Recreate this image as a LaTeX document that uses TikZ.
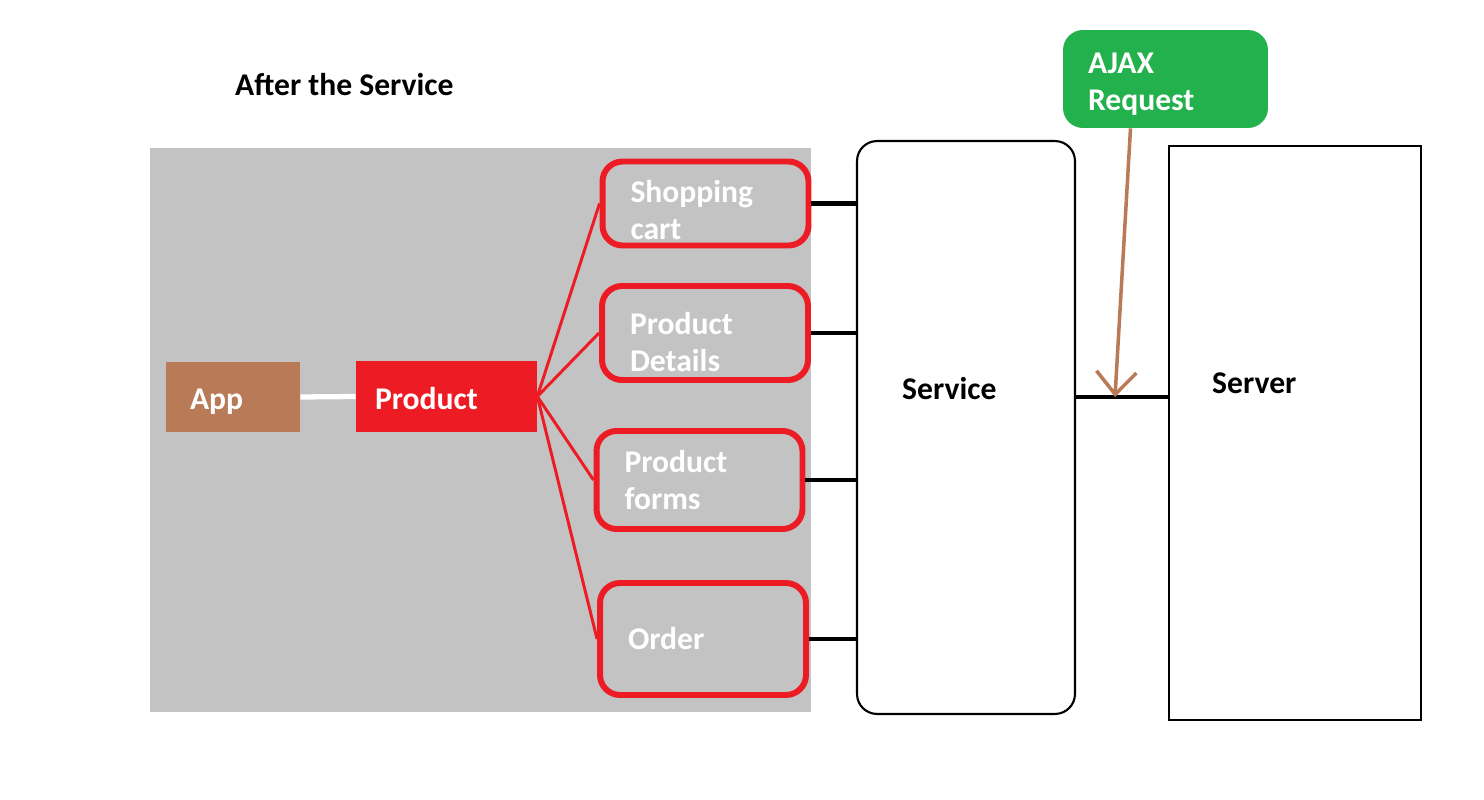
\documentclass[tikz,border=0pt]{standalone}
\usepackage{fontspec}
\setmainfont{Carlito}
\usetikzlibrary{arrows.meta,calc}
\definecolor{bggray}{HTML}{C3C3C3}
\definecolor{pred}{HTML}{ED1C24}
\definecolor{appbrown}{HTML}{B97A57}
\definecolor{ajaxgreen}{HTML}{22B14C}
\newcommand{\toppad}[1]{\rule{0pt}{#1}}
\tikzset{
  lbl/.style={font=\fontsize{18}{21}\selectfont\bfseries},
  wlbl/.style={lbl, text=white, align=left},
  subbox/.style={wlbl, draw=pred, line width=3.4pt, rounded corners=0.4cm,
    text width=3cm, inner xsep=0.56cm, minimum width=4.12cm},
  bigbox/.style={draw=black, line width=1.2pt},
  redlink/.style={pred, line width=1.7pt},
  blacklink/.style={black, line width=2.3pt}
}
\begin{document}
\begin{tikzpicture}[x=0.02cm, y=-0.02cm]
        \useasboundingbox (0,0) rectangle (1484,800);
        \fill[bggray] (150,148) rectangle (811,712);
        % left side
        \node[wlbl, fill=appbrown, text width=1.72cm, inner xsep=0.48cm,
          text height=18.4pt, text depth=4pt,
          minimum height=1.4cm] (app) at (233,397) {App};
        \node[wlbl, fill=pred, text width=2.86cm, inner xsep=0.38cm,
          text height=17pt, text depth=2pt,
          minimum height=1.42cm] (product) at (446.5,396.5) {Product};
        \node[subbox, minimum height=1.62cm] (cart) at (705.5,203.5) {\toppad{20pt}Shopping\\cart};
        \node[subbox, minimum height=1.88cm] (details) at (705,333) {\toppad{22.5pt}Product\\Details};
        \node[subbox, minimum height=1.96cm] (forms) at (699.5,480) {Product\\forms};
        \node[subbox, minimum height=2.24cm] (order) at (703,639) {Order};
        \draw[white, line width=3pt] (app.east) -- (product.west);
        \foreach \n in {cart,details,forms,order}
          \draw[redlink] (product.east) -- (\n.west);
        % service and server
        \node[bigbox, rounded corners=0.4cm, minimum width=4.36cm,
          minimum height=11.46cm] (service) at (966,427.5) {};
        \node[bigbox, minimum width=5.04cm, minimum height=11.48cm] (server) at (1295,433) {};
        \node[lbl, anchor=west] (servicetext) at (896,389) {Service};
        \node[lbl, anchor=west] (servertext) at (1206,383) {Server};
        \foreach \n in {cart,details,forms,order}
          \draw[blacklink] (\n.east) -- (\n.east -| service.west);
        \coordinate (ajaxhit) at (1115,397);
        \draw[blacklink] (ajaxhit -| service.east) -- (ajaxhit -| server.west);
        % ajax request
        \node[wlbl, fill=ajaxgreen, rounded corners=0.4cm, text width=3.1cm,
          inner xsep=0.5cm, minimum height=1.96cm] (ajax) at (1165.5,79) {\toppad{18pt}AJAX\\Request};
        \draw[appbrown, line width=2pt, -{Straight Barb[length=0.45cm,width=0.8cm]}]
          ($(ajax.south)+(-35,0)$) -- (ajaxhit);
        \node[lbl, anchor=west] (title) at (229,85) {After the Service};
\end{tikzpicture}
\end{document}
